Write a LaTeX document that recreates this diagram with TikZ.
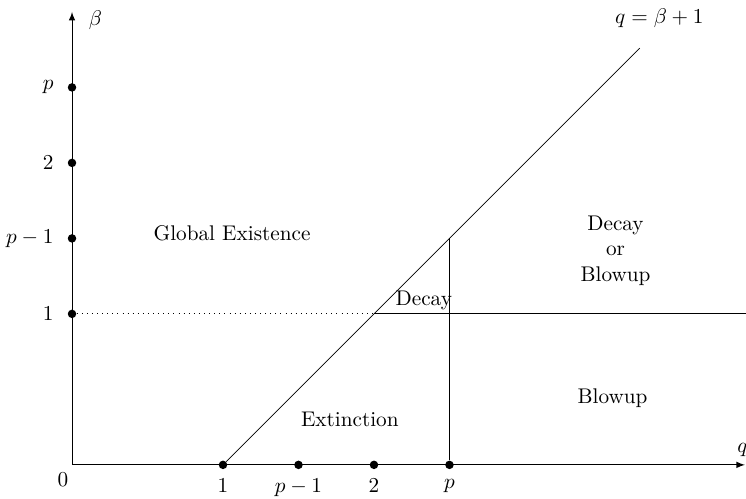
\documentclass[tikz,border=0pt]{standalone}
\usepackage{amsmath,amssymb}
\usepackage{tikz}
\usetikzlibrary{arrows,positioning,calc}

\begin{document}
\begin{tikzpicture}[
    x=2.5cm, y=2.5cm,
    dot/.style={circle, fill=black, inner sep=0pt, minimum size=4pt},
    ax/.style={-latex, thin},
    bd/.style={thin},
    reg/.style={font=\normalsize, inner sep=1pt}
]
\useasboundingbox (-0.477,-0.225) rectangle (4.464,3.079);
% axes
\coordinate (o) at (0,0);
\coordinate (qtip) at (4.457,0);
\coordinate (btip) at (0,3.0);
\draw[ax] (o) -- (qtip);
\draw[ax] (o) -- (btip);
\node (qlab) at (4.44,0.10) {$q$};
\node (blab) at (0.155,2.945) {$\beta$};
\node (zero) at (-0.06,-0.10) {$0$};
% ticks on q axis
\node[dot] (q1) at (1,0) {};
\node[dot] (qpm) at (1.5,0) {};
\node[dot] (q2) at (2,0) {};
\node[dot] (qp) at (2.5,0) {};
\node[below=1pt of q1] {$1$};
\node[below=1pt of qpm] {$p-1$};
\node[below=1pt of q2] {$2$};
\node[below=1pt of qp] {$p$};
% ticks on beta axis
\node[dot] (b1) at (0,1) {};
\node[dot] (bpm) at (0,1.5) {};
\node[dot] (b2) at (0,2) {};
\node[dot] (bp) at (0,2.5) {};
\node[left=3pt of b1] {$1$};
\node[left=3pt of bpm] {$p-1$};
\node[left=3pt of b2] {$2$};
\node[left=3pt of bp] {$p$};
% boundaries
\coordinate (c21) at (2,1);
\coordinate (cp) at (2.5,1.5);
\coordinate (lend) at (3.76,2.76);
\coordinate (rend) at (4.464,1);
\draw[bd] (q1) -- (lend);
\draw[bd, dotted] (b1) -- (c21);
\draw[bd] (c21) -- (rend);
\draw[bd] (qp) -- (cp);
\node (line) at (3.89,2.96) {$q=\beta+1$};
% regions
\node[reg] (glob) at (1.06,1.536) {Global Existence};
\node[reg, align=center] (dob) at (3.60,1.42) {Decay\\or\\Blowup};
\node[reg] (dec) at (2.33,1.09) {Decay};
\node[reg] (ext) at (1.84,0.30) {Extinction};
\node[reg] (blow) at (3.58,0.44) {Blowup};
\end{tikzpicture}
\end{document}
